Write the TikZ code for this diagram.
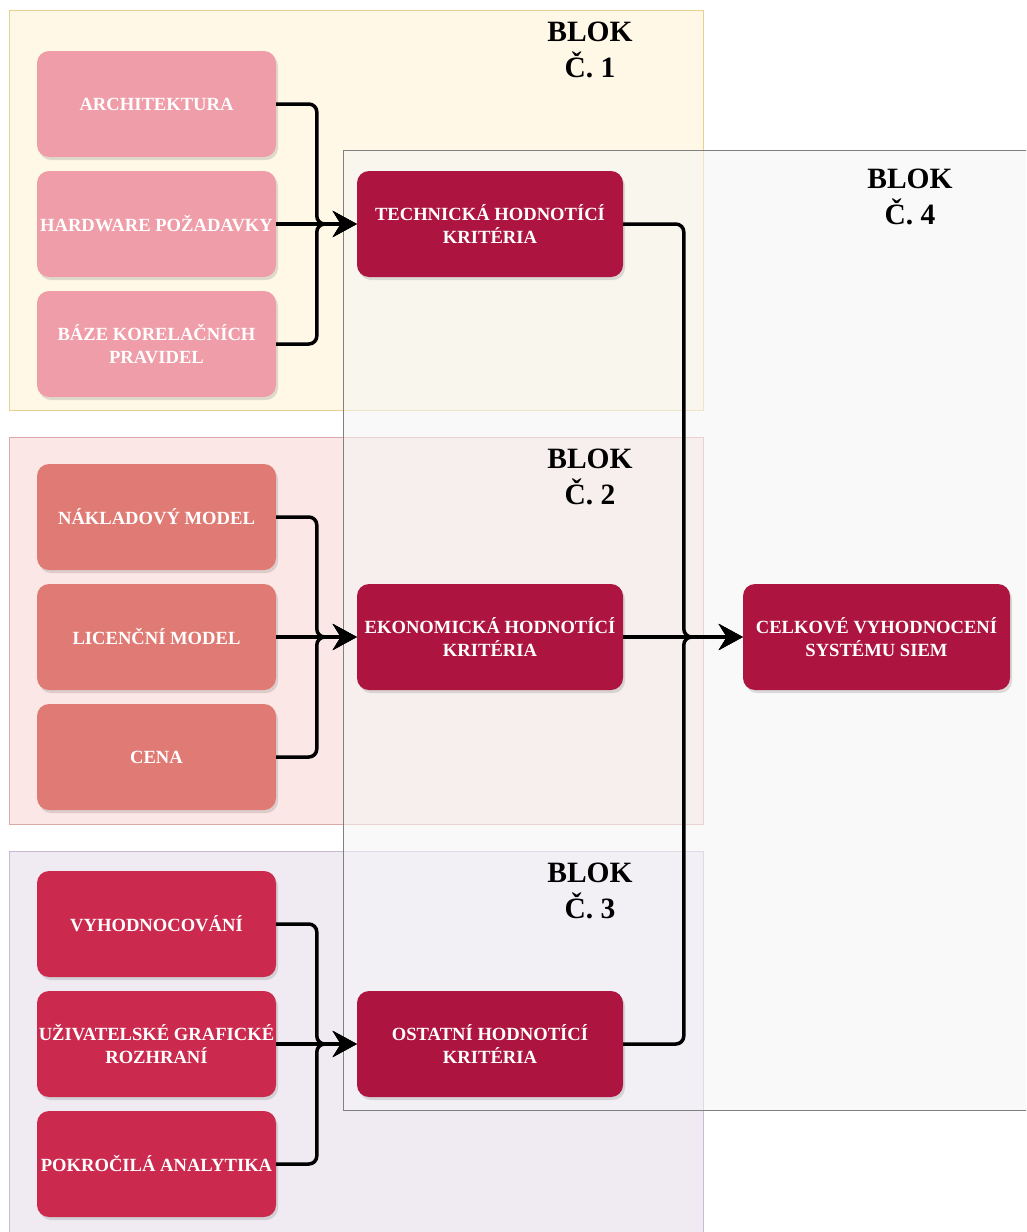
\documentclass[tikz,border=0pt]{standalone}
\usepackage{fontspec}
\setmainfont{Liberation Serif}
\usetikzlibrary{arrows.meta,shadows,calc}
\definecolor{b1fill}{HTML}{FFF8E6}
\definecolor{b1draw}{HTML}{E8D08F}
\definecolor{b2fill}{HTML}{FBE7E6}
\definecolor{b2draw}{HTML}{DBA9A7}
\definecolor{b3fill}{HTML}{F0EAF3}
\definecolor{b3draw}{HTML}{CAB9D2}
\definecolor{b4fill}{HTML}{F5F5F5}
\definecolor{b4draw}{HTML}{808080}
\definecolor{c1}{HTML}{EF9DA8}
\definecolor{c2}{HTML}{DF7B74}
\definecolor{c3}{HTML}{CB294E}
\definecolor{cm}{HTML}{AD1540}
\tikzset{
  box/.style={rectangle, rounded corners=12pt, minimum width=239pt, minimum height=106pt,
    inner sep=0pt, align=center, text=white,
    font=\fontsize{18.6}{22.5}\selectfont\bfseries,
    drop shadow={shadow xshift=2pt, shadow yshift=-3pt, opacity=0.25}},
  lbox1/.style={box, fill=c1},
  lbox2/.style={box, fill=c2},
  lbox3/.style={box, fill=c3},
  mbox/.style={box, fill=cm, minimum width=266pt},
  blocklabel/.style={align=center, inner sep=0pt, font=\fontsize{29.5}{36}\selectfont\bfseries},
  conn/.style={line width=3.5pt, rounded corners=8pt, -{Stealth[length=24pt,width=26pt,inset=8pt]}},
  blockrect/.style={line width=1pt}
}
\begin{document}
\begin{tikzpicture}[x=1pt,y=-1pt]
\useasboundingbox (0,0) rectangle (1026,1232);
\clip (0,0) rectangle (1026,1232);
\fill[white] (0,0) rectangle (1026,1232);
% blocks
\draw[blockrect, fill=b1fill, draw=b1draw] (9,10) rectangle (703,410);
\draw[blockrect, fill=b2fill, draw=b2draw] (9,437) rectangle (703,824);
\draw[blockrect, fill=b3fill, draw=b3draw] (9,851) rectangle (703,1240);
\draw[blockrect, fill=b4fill, fill opacity=0.55, draw=b4draw] (343,150) rectangle (1035,1110);
% block labels
\node[blocklabel] (l1) at (590,50) {BLOK\\Č. 1};
\node[blocklabel] (l2) at (590,477) {BLOK\\Č. 2};
\node[blocklabel] (l3) at (590,891) {BLOK\\Č. 3};
\node[blocklabel] (l4) at (910,197) {BLOK\\Č. 4};
% left boxes
\node[lbox1] (a1) at (156.5,104) {ARCHITEKTURA};
\node[lbox1] (a2) at (156.5,224) {HARDWARE POŽADAVKY};
\node[lbox1] (a3) at (156.5,344) {BÁZE KORELAČNÍCH\\PRAVIDEL};
\node[lbox2] (b1) at (156.5,517) {NÁKLADOVÝ MODEL};
\node[lbox2] (b2) at (156.5,637) {LICENČNÍ MODEL};
\node[lbox2] (b3) at (156.5,757) {CENA};
\node[lbox3] (c1n) at (156.5,924) {VYHODNOCOVÁNÍ};
\node[lbox3] (c2n) at (156.5,1044) {UŽIVATELSKÉ GRAFICKÉ\\ROZHRANÍ};
\node[lbox3] (c3n) at (156.5,1164) {POKROČILÁ ANALYTIKA};
% middle boxes
\node[mbox] (tech) at (490,224) {TECHNICKÁ HODNOTÍCÍ\\KRITÉRIA};
\node[mbox] (eko) at (490,637) {EKONOMICKÁ HODNOTÍCÍ\\KRITÉRIA};
\node[mbox] (ost) at (490,1044) {OSTATNÍ HODNOTÍCÍ\\KRITÉRIA};
% final box
\node[mbox, minimum width=267pt] (celk) at (876.5,637) {CELKOVÉ VYHODNOCENÍ\\SYSTÉMU SIEM};
% connectors block 1
\draw[conn] (a1.east) -| ([xshift=-40pt]tech.west) -- (tech.west);
\draw[conn] (a2.east) -- (tech.west);
\draw[conn] (a3.east) -| ([xshift=-40pt]tech.west) -- (tech.west);
% block 2
\draw[conn] (b1.east) -| ([xshift=-40pt]eko.west) -- (eko.west);
\draw[conn] (b2.east) -- (eko.west);
\draw[conn] (b3.east) -| ([xshift=-40pt]eko.west) -- (eko.west);
% block 3
\draw[conn] (c1n.east) -| ([xshift=-40pt]ost.west) -- (ost.west);
\draw[conn] (c2n.east) -- (ost.west);
\draw[conn] (c3n.east) -| ([xshift=-40pt]ost.west) -- (ost.west);
% to final
\draw[conn] (tech.east) -| ([xshift=-59pt]celk.west) -- (celk.west);
\draw[conn] (eko.east) -- (celk.west);
\draw[conn] (ost.east) -| ([xshift=-59pt]celk.west) -- (celk.west);
\end{tikzpicture}
\end{document}
